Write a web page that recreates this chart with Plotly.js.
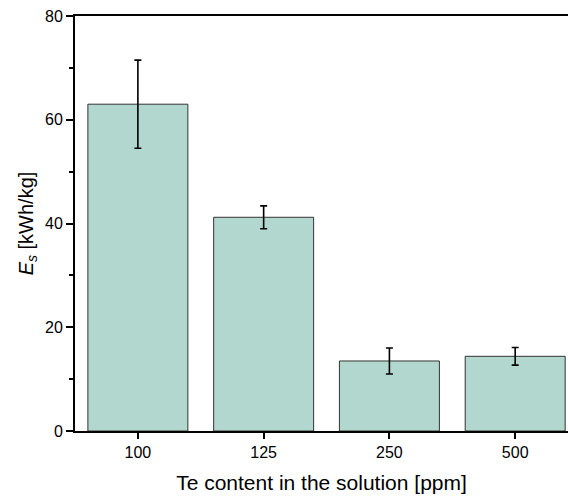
<!DOCTYPE html>
<html><head><meta charset="utf-8">
<script src="https://cdn.plot.ly/plotly-3.0.1.min.js"></script>
<style>body{margin:0;padding:0;background:#fff}#chart{width:568px;height:497px}</style>
</head><body><div id="chart"></div>
<script>
const categories = ['100', '125', '250', '500'];
const energyValues = [63.0, 41.2, 13.5, 14.4];
const errorValues = [8.5, 2.2, 2.5, 1.7];
const yTickValues = [0, 20, 40, 60, 80];

const trace = {
  type: 'bar',
  x: categories,
  y: energyValues,
  width: 0.795,
  marker: {color: '#b2d7ce', line: {color: '#333333', width: 1}},
  error_y: {type: 'data', array: errorValues, visible: true, color: '#000000', thickness: 1.6, width: 3.5},
  hoverinfo: 'x+y'
};

const layout = {
  width: 568, height: 497,
  margin: {l: 75, r: 0, t: 16, b: 66},
  paper_bgcolor: '#ffffff', plot_bgcolor: '#ffffff',
  showlegend: false,
  font: {family: 'Liberation Sans, Arial, sans-serif', color: '#000', size: 16},
  xaxis: {
    type: 'category',
    range: [-0.5, 3.42],
    showline: true, linecolor: '#000', linewidth: 2, mirror: true,
    ticks: 'outside', ticklen: 6, tickwidth: 2, tickcolor: '#000',
    showgrid: false, zeroline: false,
    tickfont: {size: 16},
    title: {text: 'Te content in the solution [ppm]', font: {size: 21}, standoff: 15}
  },
  yaxis: {
    range: [0, 80],
    tickvals: yTickValues,
    showline: true, linecolor: '#000', linewidth: 2,
    ticks: 'outside', ticklen: 7, tickwidth: 2, tickcolor: '#000',
    minor: {ticks: 'outside', ticklen: 4, tickwidth: 2, tickcolor: '#000', dtick: 10, showgrid: false},
    showgrid: false, zeroline: false,
    tickfont: {size: 16},
    title: {text: '<i>E<sub>s</sub></i> [kWh/kg]', font: {size: 20}, standoff: 6}
  }
};

Plotly.newPlot('chart', [trace], layout, {displayModeBar: false, staticPlot: true});
</script></body></html>
